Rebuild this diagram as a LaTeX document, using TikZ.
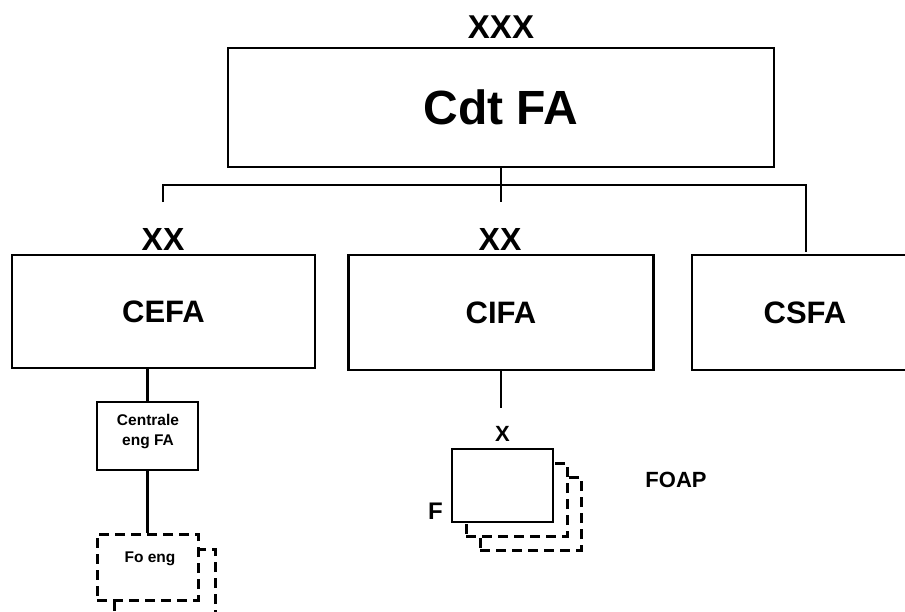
\documentclass[tikz,border=0pt]{standalone}
\usepackage{fontspec}
\setmainfont{Liberation Sans}
\begin{document}
\begin{tikzpicture}[x=1pt,y=-1pt,line width=2.2pt,
  unit/.style={draw,fill=white,inner sep=0pt},
  dashunit/.style={unit,line width=3pt,dash pattern=on 10pt off 6pt},
  txt/.style={inner sep=0pt,font=\fontsize{#1}{#1}\selectfont\bfseries},
  smalltxt/.style={inner sep=0pt,align=center,
    font=\fontsize{15.5}{20}\selectfont\bfseries}]
  \useasboundingbox (0,0) rectangle (905,611);

  % command
  \node[unit,minimum width=546,minimum height=119,txt=48] (cdt)
    at (501,107.5) {Cdt FA};
  \node[txt=33,anchor=base] (cdtech) at (501,38) {XXX};

  % first level
  \node[unit,minimum width=303,minimum height=113,txt=31] (cefa)
    at (163.5,311.5) {CEFA};
  \node[unit,minimum width=305,minimum height=115,txt=31] (cifa)
    at (501,312.5) {CIFA};
  \node[unit,minimum width=226,minimum height=115,txt=31] (csfa)
    at (805,312.5) {CSFA};
  \node[txt=32,anchor=base] (cefaech) at (163,250) {XX};
  \node[txt=32,anchor=base] (cifaech) at (500,250) {XX};

  \coordinate (stubL) at (163,202);
  \coordinate (stubM) at (501,202);
  \coordinate (barR) at (806,185);
  \coordinate (stubR) at (806,252);
  \draw (stubL) |- (barR) -- (stubR);
  \draw (cdt.south) -- (stubM);

  % CEFA branch
  \node[unit,minimum width=101,minimum height=68] (ceng) at (147.5,436) {};
  \node[smalltxt,anchor=north] (cengtxt) at (148,413) {Centrale\\eng FA};
  \draw (ceng.north |- cefa.south) -- (ceng.north);

  \node[dashunit,minimum width=101,minimum height=66] (foengb)
    at (164.5,582) {};
  \node[dashunit,minimum width=101,minimum height=66] (foeng)
    at (147.5,567) {};
  \node[smalltxt,anchor=base] (foengtxt) at (150,562) {Fo eng};
  \draw (ceng.south) -- (foeng.north);

  % CIFA branch
  \coordinate (cifastub) at ([yshift=-37pt]cifa.south);
  \draw (cifa.south) -- (cifastub);
  \foreach \d in {28,14}
    \node[dashunit,minimum width=101,minimum height=73] (foapb\d)
      at (502.5+\d,485.5+\d) {};
  \node[unit,minimum width=101,minimum height=73] (foap) at (502.5,485.5) {};
  \node[txt=22,anchor=base] (foapech) at ([yshift=6pt]foap.north) {X};
  \node[txt=24,anchor=base east] (foapf)
    at ([xshift=-7pt,yshift=4pt]foap.south west) {F};
  \node[txt=22,anchor=base] (foaptxt) at (676,487) {FOAP};
\end{tikzpicture}
\end{document}
